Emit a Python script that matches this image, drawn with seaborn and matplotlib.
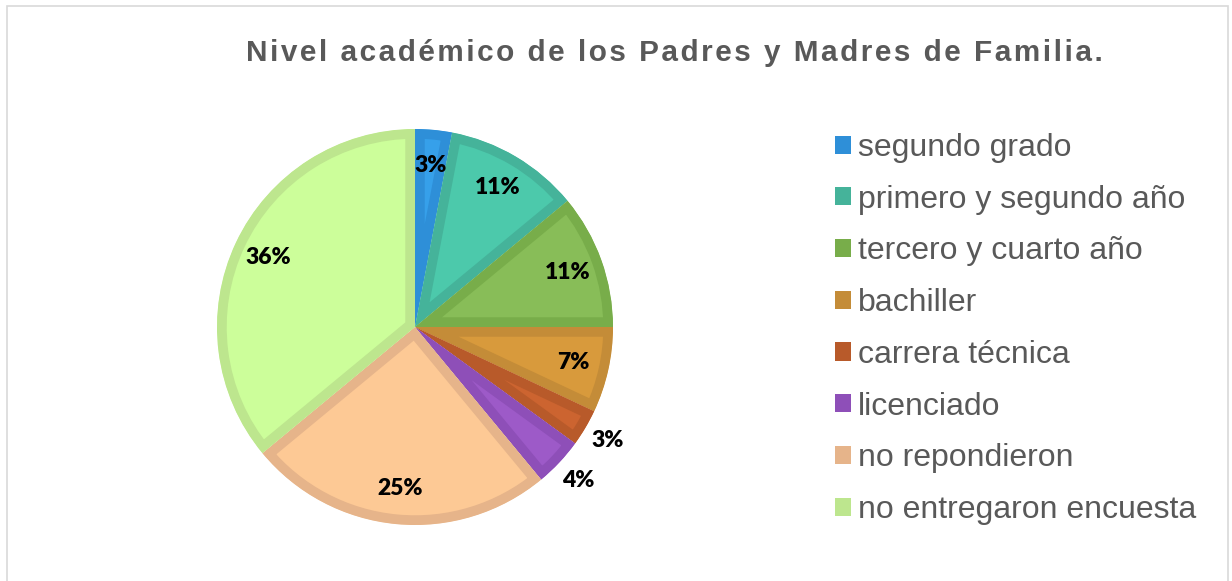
import matplotlib
matplotlib.use("Agg")
import matplotlib.pyplot as plt
from matplotlib.patches import Patch, Rectangle
import seaborn as sns

# DATA
categories = ["segundo grado", "primero y segundo año", "tercero y cuarto año",
              "bachiller", "carrera técnica", "licenciado",
              "no repondieron", "no entregaron encuesta"]
percentages = [3, 11, 11, 7, 3, 4, 25, 36]
title = "Nivel académico de los Padres y Madres de Familia."

# STYLE
fill_colors = ["#36A0EA", "#4CC9AB", "#88BD58", "#D89A3C",
               "#CC6430", "#9D5AC8", "#FDC995", "#CCFE9A"]
edge_colors = ["#2E8FD8", "#45B39A", "#78AD4A", "#C48C38",
               "#B85A2A", "#8E4FB8", "#E6B48A", "#BDE68E"]
outside_labels = {"carrera técnica", "licenciado"}
TEXT_GRAY = "#595959"

sns.set_theme(style="white")
plt.rcParams["font.family"] = ["Liberation Sans", "DejaVu Sans"]

W, H = 1232, 581
fig = plt.figure(figsize=(W / 100, H / 100), dpi=100)
fig.patch.set_facecolor("white")

# chart border
fig.patches.append(Rectangle((7 / W, -0.02), (1228 - 7) / W, (H - 6) / H + 0.02,
                             transform=fig.transFigure, fill=False,
                             edgecolor="#D9D9D9", linewidth=1.2))

cx, cy, r = 415, 327, 198
ax = fig.add_axes([(cx - r) / W, (H - cy - r) / H, 2 * r / W, 2 * r / H])

wedges, texts, autotexts = ax.pie(
    percentages, colors=sns.color_palette(fill_colors), startangle=90,
    counterclock=False, autopct="%d%%", pctdistance=0.82,
    wedgeprops=dict(linewidth=14),
    textprops=dict(family="Lato", fontweight="heavy", fontsize=16.5, color="black"))

# Excel-like inner border: thick edge clipped to the wedge itself
for w, ec in zip(wedges, edge_colors):
    w.set_edgecolor(ec)
    w.set_joinstyle("miter")
    w.set_clip_on(True)
    w.set_clip_path(w)

for cat, t in zip(categories, autotexts):
    if cat in outside_labels:
        x, y = t.get_position()
        t.set_position((x * 1.13 / 0.82, y * 1.13 / 0.82))

ax.set_xlim(-1, 1)
ax.set_ylim(-1, 1)
ax.set_aspect("equal")
ax.axis("off")

# letter-spaced title
fig.text(674 / W, 1 - 53 / H, "\u200a".join(title), ha="center", va="center",
         fontsize=21.4, fontweight="bold", color=TEXT_GRAY)

handles = [Patch(facecolor=c, edgecolor="none") for c in edge_colors]
leg = fig.legend(handles, categories, loc="upper left",
                 bbox_to_anchor=(819 / W, 1 - 117 / H), frameon=False,
                 fontsize=23, handlelength=0.5, handleheight=0.5,
                 handletextpad=0.22, labelspacing=0.68, borderpad=0)
for t in leg.get_texts():
    t.set_color(TEXT_GRAY)

fig.savefig("out.png", dpi=100, facecolor="white")
